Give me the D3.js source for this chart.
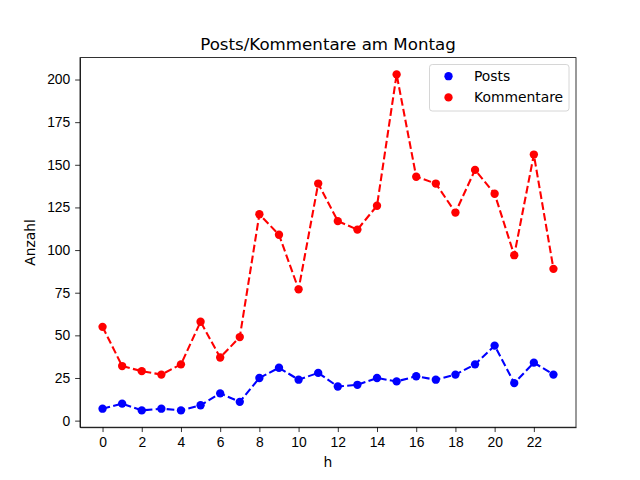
<!DOCTYPE html>
<html lang="de">
<head>
  <meta charset="UTF-8">
  <title>Posts/Kommentare am Montag</title>
  <script src="https://d3js.org/d3.v7.min.js"></script>
  <style>
    body { margin: 0; background: white; }
    svg { font-family: "DejaVu Sans", sans-serif; }
    .tick text { font-size: 13.89px; fill: #000; }
    .tick line, .domain { stroke: #000; stroke-width: 0.8; }
  </style>
</head>
<body>
  <svg width="640" height="480"></svg>
  <script>
    const hours = d3.range(0, 24);
    const posts = [7, 10, 6, 7, 6, 9, 16, 11, 25, 31, 24, 28, 20, 21, 25, 23, 26, 24, 27, 33, 44, 22, 34, 27];
    const kommentare = [55, 32, 29, 27, 33, 58, 37, 49, 121, 109, 77, 139, 117, 112, 126, 203, 143, 139, 122, 147, 133, 97, 156, 89];
    const xTicks = d3.range(0, 24, 2);
    const yTicks = d3.range(0, 201, 25);

    const margin = { top: 57.6, right: 64, bottom: 52.8, left: 80 };
    const width = 640 - margin.left - margin.right;
    const height = 480 - margin.top - margin.bottom;

    const svg = d3.select("svg");
    const g = svg.append("g")
      .attr("transform", `translate(${margin.left},${margin.top})`);

    // matplotlib style 5% padding
    const allY = posts.concat(kommentare);
    const yMin = d3.min(allY), yMax = d3.max(allY);
    const yPad = (yMax - yMin) * 0.05;
    const xPad = 23 * 0.05;

    const x = d3.scaleLinear().domain([-xPad, 23 + xPad]).range([0, width]);
    const y = d3.scaleLinear().domain([yMin - yPad, yMax + yPad]).range([height, 0]);

    g.append("g")
      .attr("transform", `translate(0,${height})`)
      .call(d3.axisBottom(x).tickValues(xTicks).tickSize(4.86).tickPadding(4.86).tickSizeOuter(0));

    g.append("g")
      .call(d3.axisLeft(y).tickValues(yTicks).tickSize(4.86).tickPadding(4.86).tickSizeOuter(0));

    // frame
    g.append("rect")
      .attr("width", width).attr("height", height)
      .attr("fill", "none").attr("stroke", "#000").attr("stroke-width", 0.8);

    const series = [
      { name: "Posts", values: posts, color: "blue" },
      { name: "Kommentare", values: kommentare, color: "red" }
    ];

    const line = d3.line()
      .x((d, i) => x(hours[i]))
      .y(d => y(d));

    series.forEach(s => {
      g.append("path")
        .datum(s.values)
        .attr("d", line)
        .attr("fill", "none")
        .attr("stroke", s.color)
        .attr("stroke-width", 2.08)
        .attr("stroke-dasharray", "7.7,3.3");

      g.selectAll(null)
        .data(s.values)
        .enter()
        .append("circle")
        .attr("cx", (d, i) => x(hours[i]))
        .attr("cy", d => y(d))
        .attr("r", 4.17)
        .attr("fill", s.color);
    });

    // title and labels
    svg.append("text")
      .attr("x", margin.left + width / 2)
      .attr("y", 50)
      .attr("text-anchor", "middle")
      .attr("font-size", 16.67)
      .text("Posts/Kommentare am Montag");

    svg.append("text")
      .attr("x", margin.left + width / 2)
      .attr("y", 467)
      .attr("text-anchor", "middle")
      .attr("font-size", 13.89)
      .text("h");

    svg.append("text")
      .attr("transform", `translate(35,${margin.top + height / 2}) rotate(-90)`)
      .attr("text-anchor", "middle")
      .attr("font-size", 13.89)
      .text("Anzahl");

    // legend
    const lg = svg.append("g").attr("transform", "translate(429.5,64.5)");
    lg.append("rect")
      .attr("width", 139.5).attr("height", 46.5)
      .attr("rx", 2.8)
      .attr("fill", "white").attr("fill-opacity", 0.8)
      .attr("stroke", "#cccccc").attr("stroke-width", 0.8);

    series.forEach((s, i) => {
      const cy = 11.7 + i * 21.2;
      lg.append("circle")
        .attr("cx", 19).attr("cy", cy).attr("r", 4.17)
        .attr("fill", s.color);
      lg.append("text")
        .attr("x", 44.5).attr("y", cy + 5)
        .attr("font-size", 13.89)
        .text(s.name);
    });
  </script>
</body>
</html>
